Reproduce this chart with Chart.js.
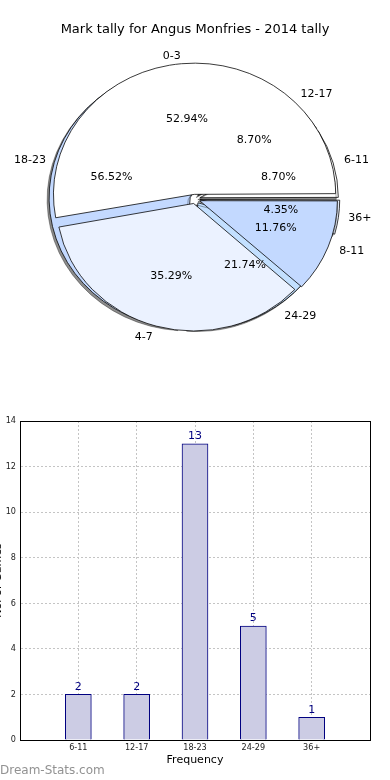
<!DOCTYPE html>
<html>
<head>
<meta charset="utf-8">
<script src="https://cdn.jsdelivr.net/npm/chart.js@4.4.1/dist/chart.umd.min.js"></script>
<style>
body { margin:0; width:390px; height:780px; overflow:hidden; background:#fff; position:relative; font-family:"DejaVu Sans", sans-serif; }
canvas { position:absolute; }
#pieB, #pieA { left:0; top:0; }
#bars { left:-10px; top:400px; }
#mark { position:absolute; left:0; top:763px; font-size:12px; color:#929292; }
</style>
</head>
<body>
<canvas id="pieB" width="390" height="370"></canvas>
<canvas id="pieA" width="390" height="370"></canvas>
<canvas id="bars" width="400" height="380"></canvas>
<div id="mark">Dream-Stats.com</div>
<script>
// pie 1: mark tally per game
var pieLabels = ["0-3", "4-7", "8-11"];
var pieValues = [9, 6, 2];
var pieColors = ["#ffffff", "#ebf2ff", "#c3d9ff"];

// pie 2 + bars: frequency by range
var freqLabels = ["6-11", "12-17", "18-23", "24-29", "36+"];
var freqValues = [2, 2, 13, 5, 1];
var freqColors = ["#ffffff", "#f7faff", "#c3d9ff", "#c3e0ff", "#ebf2ff"];

var yTicks = [0, 2, 4, 6, 8, 10, 12, 14];

var squash = 0.93;   // the original pie is a bit flatter than a circle
var explode = 5;     // px; chart.js draws offset/4

// chart.js goes clockwise from the top, matplotlib anticlockwise from the right,
// so reverse the slices and start at 90deg
function rev(a) { return a.slice().reverse(); }

var squashPlugin = {
  id: "squash",
  beforeDatasetsDraw: function (chart) {
    var ctx = chart.ctx, a = chart.chartArea;
    var cx = (a.left + a.right) / 2, cy = (a.top + a.bottom) / 2;
    ctx.save();
    ctx.translate(cx, cy);
    ctx.scale(1, squash);
    ctx.translate(-cx, -cy);
    if (chart.options.plugins.squash.shadow) {
      ctx.shadowColor = "rgba(0,0,0,0.45)";
      ctx.shadowOffsetX = -2;
      ctx.shadowOffsetY = 2;
    }
  },
  afterDatasetsDraw: function (chart) {
    chart.ctx.restore();
  }
};

function pieText(ctx, chart) {
  var meta = chart.getDatasetMeta(0);
  var ds = chart.data.datasets[0];
  var total = ds.data.reduce(function (a, b) { return a + b; }, 0);
  ctx.font = "11px 'DejaVu Sans'";
  ctx.fillStyle = "#000";
  meta.data.forEach(function (arc, i) {
    var p = arc.getProps(["x", "y", "startAngle", "endAngle", "outerRadius"]);
    var mid = (p.startAngle + p.endAngle) / 2;
    var c = Math.cos(mid), s = Math.sin(mid);
    var r1 = p.outerRadius * 1.1 + explode;
    ctx.textBaseline = "middle";
    ctx.textAlign = c > 0 ? "left" : "right";
    ctx.fillText(ds.labels[i], p.x + c * r1, p.y + s * r1 * squash);
    var r2 = p.outerRadius * 0.6 + explode;
    ctx.textAlign = "center";
    ctx.fillText((ds.data[i] / total * 100).toFixed(2) + "%", p.x + c * r2, p.y + s * r2 * squash);
  });
}

function pieOptions(title, shadow) {
  return {
    responsive: false,
    animation: false,
    rotation: 90,
    layout: { padding: { left: 48.5, right: 48.5, top: title ? 0 : 52.5, bottom: 24.5 } },
    plugins: {
      legend: { display: false },
      tooltip: { enabled: false },
      squash: { shadow: shadow },
      title: {
        display: !!title,
        text: title,
        color: "#000",
        font: { family: "'DejaVu Sans'", size: 13, weight: "normal" },
        padding: { top: 22, bottom: 14.9 }
      }
    }
  };
}

var chartB = new Chart("pieB", {
  type: "pie",
  data: {
    labels: rev(freqLabels),
    datasets: [{
      data: rev(freqValues),
      labels: rev(freqLabels),
      backgroundColor: rev(freqColors),
      borderColor: "#000",
      borderWidth: 0.8,
      offset: explode * 4
    }]
  },
  options: pieOptions("", true),
  plugins: [squashPlugin]
});

new Chart("pieA", {
  type: "pie",
  data: {
    labels: rev(pieLabels),
    datasets: [{
      data: rev(pieValues),
      labels: rev(pieLabels),
      backgroundColor: rev(pieColors),
      borderColor: "#000",
      borderWidth: 0.8,
      offset: explode * 4
    }]
  },
  options: pieOptions("Mark tally for Angus Monfries - 2014 tally", false),
  plugins: [squashPlugin, {
    id: "pieText",
    afterDraw: function (chart) {
      pieText(chart.ctx, chartB);
      pieText(chart.ctx, chart);
    }
  }]
});

var tickFont = { family: "'DejaVu Sans Condensed', 'DejaVu Sans'", size: 9 };

new Chart("bars", {
  type: "bar",
  data: {
    datasets: [{
      data: freqValues.map(function (v, i) { return { x: i, y: v }; }),
      backgroundColor: "#ccccE4",
      borderColor: "#000080",
      borderWidth: 1,
      barThickness: 26
    }]
  },
  options: {
    responsive: false,
    animation: false,
    layout: { padding: { top: 21, right: 20, left: 0, bottom: 0 } },
    plugins: { legend: { display: false }, tooltip: { enabled: false } },
    scales: {
      x: {
        type: "linear",
        offset: false,
        min: -1, max: 5,
        afterFit: function (s) { s.height = 40; },
        afterBuildTicks: function (s) {
          s.ticks = [-1, 0, 1, 2, 3, 4, 5].map(function (v) { return { value: v }; });
        },
        ticks: {
          color: "#222", font: tickFont, padding: 2, maxRotation: 0, autoSkip: false,
          callback: function (v) { return freqLabels[v] || ""; }
        },
        grid: { color: "#c4c4c4", drawTicks: false, offset: false },
        border: { color: "#000", width: 1, dash: [2, 2] },
        title: { display: true, text: "Frequency", color: "#000", font: { family: "'DejaVu Sans'", size: 11 }, padding: { top: 0, bottom: 13 } }
      },
      y: {
        min: 0, max: 14,
        afterFit: function (s) { s.width = 30; },
        afterBuildTicks: function (s) {
          s.ticks = yTicks.map(function (v) { return { value: v }; });
        },
        ticks: { color: "#222", font: tickFont, padding: 4 },
        grid: { color: "#c4c4c4", drawTicks: false },
        border: { color: "#000", width: 1, dash: [2, 2] },
        title: { display: true, text: "No. of Games", color: "#000", font: { family: "'DejaVu Sans'", size: 11 }, padding: { top: 1.5, bottom: 0 } }
      }
    }
  },
  plugins: [{
    id: "frameAndValues",
    afterDraw: function (chart) {
      var ctx = chart.ctx, a = chart.chartArea;
      ctx.save();
      ctx.strokeStyle = "#000";
      ctx.lineWidth = 1;
      ctx.strokeRect(Math.round(a.left) + 0.5, Math.round(a.top) + 0.5, Math.round(a.right - a.left), Math.round(a.bottom - a.top));
      ctx.fillStyle = "#000080";
      ctx.font = "11px 'DejaVu Sans'";
      ctx.textAlign = "center";
      ctx.textBaseline = "bottom";
      chart.getDatasetMeta(0).data.forEach(function (bar, i) {
        ctx.fillText(String(freqValues[i]), bar.x, bar.y - 2);
      });
      ctx.restore();
    }
  }]
});
</script>
</body>
</html>
